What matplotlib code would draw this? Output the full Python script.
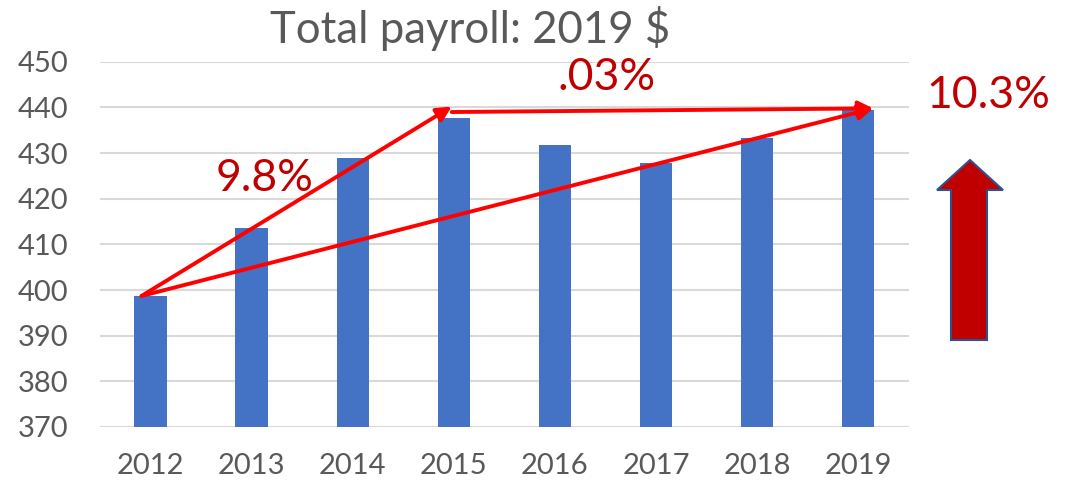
import matplotlib
matplotlib.use('Agg')
import matplotlib.pyplot as plt
from matplotlib.patches import Polygon

years = ['2012', '2013', '2014', '2015', '2016', '2017', '2018', '2019']
payroll = [398.7, 413.6, 429.0, 437.8, 431.8, 427.9, 433.4, 439.4]
yticks = [370, 380, 390, 400, 410, 420, 430, 440, 450]
pct_labels = ['9.8%', '.03%', '10.3%']

plt.rcParams['font.family'] = ['Lato', 'DejaVu Sans']
gray = '#595959'
red = '#FF0000'
dark_red = '#C00000'

fig = plt.figure(figsize=(10.71, 4.83), dpi=100)
ax = fig.add_axes([0.0934, 0.116, 0.755, 0.756])

x = range(len(years))
ax.bar(x, payroll, width=0.32, color='#4472C4', zorder=2)
ax.set_ylim(370, 450)
ax.set_xlim(-0.5, 7.5)
ax.set_yticks(yticks)
ax.set_xticks(list(x))
ax.set_xticklabels(years)
ax.yaxis.grid(True, color='#D9D9D9', linewidth=1.5, zorder=0)
ax.set_axisbelow(True)
for s in ax.spines.values():
    s.set_visible(False)
ax.tick_params(axis='both', length=0, labelsize=21, colors=gray)
ax.tick_params(axis='x', pad=19)
ax.tick_params(axis='y', pad=23)

fig.text(0.439, 0.942, 'Total payroll: 2019 $', ha='center', va='center',
         fontsize=31.5, color=gray)

# red growth arrows, anchored on the bars
start = (-0.09, payroll[0])
mid = (2.98, 440.2)
end = (7.15, 439.8)
aprops = dict(arrowstyle='-|>', color=red, lw=2.8, mutation_scale=22,
              shrinkA=0, shrinkB=0)
ax.annotate('', xy=mid, xytext=start, arrowprops=aprops, zorder=4)
ax.annotate('', xy=end, xytext=(mid[0], 439.0), arrowprops=aprops, zorder=4)
ax.annotate('', xy=end, xytext=start, arrowprops=aprops, zorder=4,
            annotation_clip=False)

ax.text(1.13, 424.5, pct_labels[0], ha='center', va='center', fontsize=32,
        color=dark_red)
ax.text(4.51, 446.5, pct_labels[1], ha='center', va='center', fontsize=32,
        color=dark_red, clip_on=False)
ax.text(8.29, 442.7, pct_labels[2], ha='center', va='center', fontsize=32,
        color=dark_red, clip_on=False)

# big up arrow on the right (figure pixels)
W, H = 1071, 483
pts = [(937, 190), (970, 160), (1003, 190), (987, 190), (987, 340),
       (951, 340), (951, 190)]
poly = Polygon([(px / W, 1 - py / H) for px, py in pts], closed=True,
               facecolor=dark_red, edgecolor='#2F528F', linewidth=1.5,
               transform=fig.transFigure)
fig.add_artist(poly)

fig.savefig('out.png', dpi=100)
